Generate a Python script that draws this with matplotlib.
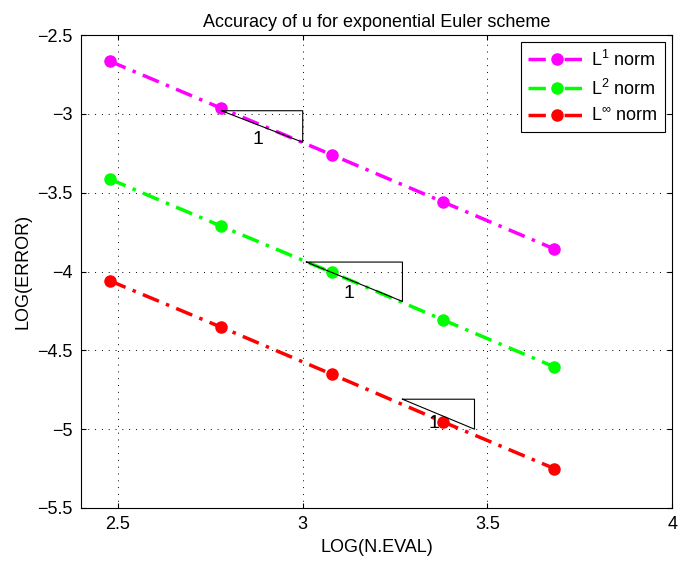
import matplotlib
matplotlib.use("Agg")
import matplotlib.pyplot as plt

plt.rcParams['font.family'] = ['Liberation Sans', 'DejaVu Sans']
plt.rcParams['mathtext.fontset'] = 'custom'
plt.rcParams['mathtext.rm'] = 'Liberation Sans'
plt.rcParams['mathtext.it'] = 'Liberation Sans'

# data
log_neval = [2.4771, 2.7782, 3.0792, 3.3802, 3.6812]
err_l1 = [-2.665, -2.963, -3.260, -3.559, -3.857]
err_l2 = [-3.413, -3.711, -4.006, -4.307, -4.605]
err_linf = [-4.058, -4.352, -4.652, -4.954, -5.250]

# slope triangles: (x_left, x_right, y_top, y_bottom) and label spot
triangles = [(2.78, 3.0, -2.98, -3.18), (3.01, 3.27, -3.94, -4.19), (3.27, 3.465, -4.81, -5.0)]
tri_labels = [(2.878, -3.165), (3.124, -4.14), (3.354, -4.965)]

fig = plt.figure(figsize=(6.81, 5.61), dpi=100)
ax = fig.add_axes([0.119, 0.0945, 0.868, 0.843])

dash = (5, 2.2, 1, 2.2)
ax.plot(log_neval, err_l1, color=(1, 0, 1), lw=2.5, dashes=dash, marker='o', ms=8, label='$\\mathregular{L^1}$ norm')
ax.plot(log_neval, err_l2, color=(0, 1, 0), lw=2.5, dashes=dash, marker='o', ms=8, label='$\\mathregular{L^2}$ norm')
ax.plot(log_neval, err_linf, color=(1, 0, 0), lw=2.5, dashes=dash, marker='o', ms=8, label='$\\mathregular{L^\\infty}$ norm')

for (x0, x1, yt, yb), (tx, ty) in zip(triangles, tri_labels):
    ax.plot([x0, x1, x1, x0], [yt, yt, yb, yt], color='k', lw=0.8)
    ax.text(tx, ty, '1', fontsize=14, ha='center', va='center')

ax.set_xlim(2.4, 4)
ax.set_ylim(-5.5, -2.5)
ax.set_xticks([2.5, 3, 3.5, 4])
ax.set_xticklabels(['2.5', '3', '3.5', '4'])
ax.set_yticks([-5.5, -5, -4.5, -4, -3.5, -3, -2.5])
ax.set_yticklabels(['\u22125.5', '\u22125', '\u22124.5', '\u22124', '\u22123.5', '\u22123', '\u22122.5'])
ax.grid(True, linestyle=(0, (1, 6)), color='k', lw=0.7)
ax.tick_params(direction='in', top=True, right=True, labelsize=13, pad=6)

ax.set_title('Accuracy of u for exponential Euler scheme', fontsize=13)
ax.set_xlabel('LOG(N.EVAL)', fontsize=13, labelpad=4)
ax.set_ylabel('LOG(ERROR)', fontsize=13)

leg = ax.legend(loc='upper right', fontsize=13, fancybox=False, framealpha=1, edgecolor='k',
                borderaxespad=0.4, handlelength=3.2, handletextpad=0.3, labelspacing=0.5)
leg.get_frame().set_linewidth(0.8)

fig.savefig('out.png', dpi=100)
